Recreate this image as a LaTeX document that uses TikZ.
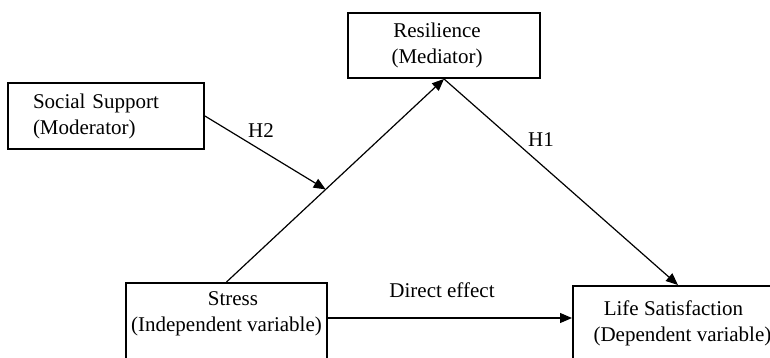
\documentclass[tikz,border=0pt]{standalone}
\usepackage{fontspec}
\setmainfont{Liberation Serif}
\usetikzlibrary{arrows.meta}
\tikzset{
  txt/.style={font=\fontsize{21}{26}\selectfont},
  varbox/.style={txt, draw, line width=1.9pt, rectangle, inner sep=0pt},
  arr/.style={-{Triangle[length=12pt,width=10pt]}, line width=1.2pt},
  lbl/.style={txt, inner sep=0pt}
}
\begin{document}
\begin{tikzpicture}[x=1pt,y=1pt]
\useasboundingbox (0,0) rectangle (770,-357);
\clip (0,0) rectangle (770,-357);
% boxes
\node[varbox, minimum width=196pt, minimum height=66pt, text width=146pt,
      inner xsep=25pt, align=left] (social) at (106,-116)
      {Social Support\\(Moderator)};
\node[varbox, minimum width=192pt, minimum height=65pt] (res) at (444,-45.5)
      {\begin{tabular}{@{}c@{}}Resilience\\(Mediator)\end{tabular}\hspace*{14pt}};
\node[varbox, anchor=north, minimum width=201pt, inner ysep=4.8pt] (stress) at (226.5,-282)
      {\begin{tabular}[t]{@{}c@{}}\hspace*{13pt}Stress\\(Independent variable)\end{tabular}\rule[-60pt]{0pt}{0pt}};
\node[varbox, anchor=north west, minimum width=210pt, inner ysep=11.8pt] (life) at (572,-285)
      {\begin{tabular}[t]{@{}c@{}}Life Satisfaction\hspace*{9pt}\\\hspace*{9pt}(Dependent variable)\end{tabular}\rule[-60pt]{0pt}{0pt}};
% connectors
\draw[arr] (stress.north) -- (res.south) coordinate[pos=0.456] (mod);
\draw[arr] (res.south) -- (life.north);
\draw[arr] (social.east) -- (mod);
\draw[arr] ([yshift=-36pt]stress.north east) -- ([yshift=-33pt]life.north west);
% labels
\node[lbl] (h2) at (261,-131) {H2};
\node[lbl] (h1) at (541,-140) {H1};
\node[lbl] (de) at (442,-290) {Direct effect};
\end{tikzpicture}
\end{document}
